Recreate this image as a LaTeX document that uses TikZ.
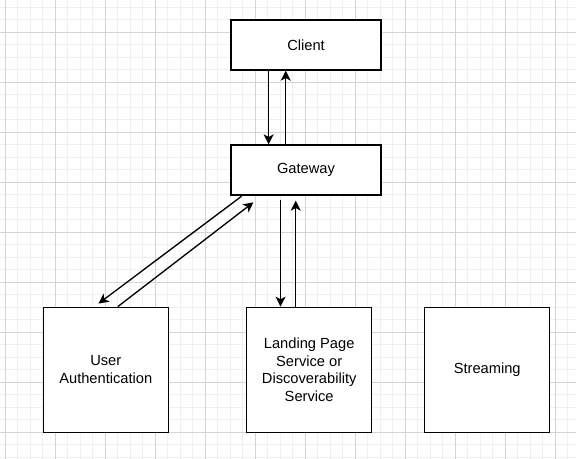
\documentclass[tikz,border=0pt]{standalone}
\usepackage{fontspec}
\setmainfont{Liberation Sans}
\usetikzlibrary{arrows.meta}

\tikzset{every picture/.style={line width=0.75pt}}
\tikzset{
  box/.style={draw=black, fill=white, line width=1pt, inner sep=0pt, align=center,
    font=\fontsize{11}{13.3}\selectfont},
  link/.style={draw=black, line width=1pt, -{Stealth[length=7.5pt,width=7.5pt,inset=2pt]}},
}
\definecolor{gridminor}{RGB}{240,240,240}
\definecolor{gridmajor}{RGB}{212,212,212}

\begin{document}
\begin{tikzpicture}[x=0.75pt,y=0.75pt,yscale=-1,xscale=1]
\useasboundingbox (0,0) rectangle (576,459);

%Grid
\foreach \gx in {0,...,45} \draw[color=gridminor] (5.3+12.5*\gx,0) -- (5.3+12.5*\gx,459);
\foreach \gy in {0,...,36} \draw[color=gridminor] (0,7.3+12.5*\gy) -- (576,7.3+12.5*\gy);
\foreach \gx in {0,...,11} \draw[color=gridmajor] (5.3+50*\gx,0) -- (5.3+50*\gx,459);
\foreach \gy in {0,...,8} \draw[color=gridmajor] (0,32.3+50*\gy) -- (576,32.3+50*\gy);

%Shape: Rectangle [id:client]
\node[box, minimum width=112.5pt, minimum height=37.5pt] (client) at (306,45) {Client};
%Shape: Rectangle [id:gateway]
\node[box, minimum width=112.5pt, minimum height=37.5pt] (gateway) at (306,170) {Gateway};
%Shape: Square [id:auth]
\node[box, minimum width=93.75pt, minimum height=93.75pt] (auth) at (105.8,369.8) {User\\Authentication};
%Shape: Square [id:landing]
\node[box, minimum width=93.75pt, minimum height=93.75pt] (landing) at (309.2,369.8) {Landing Page\\Service or\\Discoverability\\Service};
%Shape: Square [id:streaming]
\node[box, minimum width=93.75pt, minimum height=93.75pt] (streaming) at (487.2,369.8) {Streaming};

%Straight Lines [id:client-gateway]
\draw[link] ([xshift=-28pt]client.south) -- ([xshift=-28pt]gateway.north);
\draw[link] ([xshift=-15.2pt]gateway.north) -- ([xshift=-15.2pt]client.south);
%Straight Lines [id:gateway-auth]
\draw[link, shorten <=0.8pt, shorten >=3.8pt] ([xshift=9pt]gateway.south west) -- ([xshift=-8.5pt]auth.north);
\draw[link, shorten >=8.2pt] ([xshift=9pt]auth.north) -- ([xshift=23.8pt]gateway.south west);
%Straight Lines [id:gateway-landing]
\coordinate (down) at ([xshift=-21.5pt]landing.north);
\coordinate (up) at ([xshift=-10.1pt]landing.north);
\draw[link, shorten <=3pt] (down |- gateway.south) -- (down);
\draw[link, shorten >=3.75pt] (up) -- (up |- gateway.south);

\end{tikzpicture}
\end{document}
